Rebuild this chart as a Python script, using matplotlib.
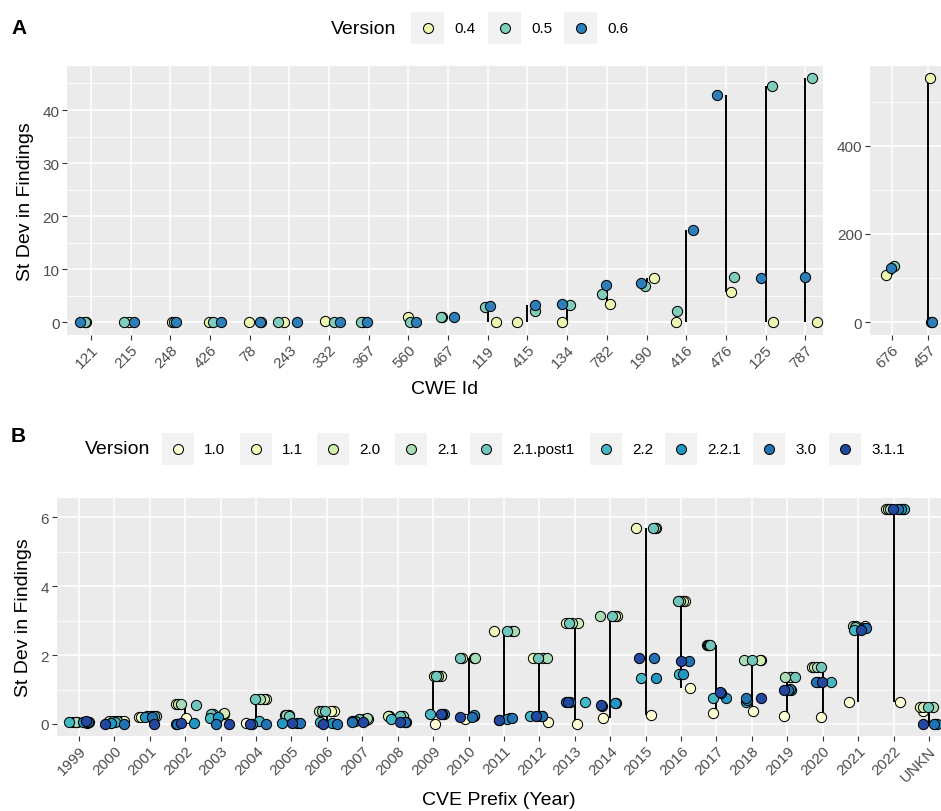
import matplotlib
matplotlib.use("Agg")
import matplotlib.pyplot as plt
from matplotlib.patches import Rectangle
import numpy as np

plt.rcParams['font.family'] = ['Liberation Sans', 'DejaVu Sans']

# ---------------- Panel A data ----------------
cwe_main = ["121", "215", "248", "426", "78", "243", "332", "367", "560", "467",
            "119", "415", "134", "782", "190", "416", "476", "125", "787"]
cwe_side = ["676", "457"]
versions_a = ["0.4", "0.5", "0.6"]
colors_a = ["#EDF8B1", "#7FCDBB", "#2C7FB8"]

a_v04 = [0, 0, 0, 0, 0, 0, 0.2, 0, 1.0, 0.95, 0, 0, 0, 3.4, 8.3, 0, 5.8, 0, 0]
a_v05 = [0, 0, 0, 0, 0, 0, 0.15, 0, 0, 0.94, 2.8, 2.2, 3.3, 5.3, 6.9, 2.1, 8.6, 44.5, 46.1]
a_v06 = [0, 0, 0, 0, 0, 0, 0.15, 0, 0, 1.07, 3.1, 3.3, 3.5, 7.0, 7.4, 17.4, 42.8, 8.3, 8.6]
a_side_v04 = [107, 553]
a_side_v05 = [128, 0]
a_side_v06 = [123, 0]

# horizontal jitter (category units)
a_jit04 = [-0.13, -0.04, 0.04, -0.03, -0.03, -0.13, -0.10, -0.14, 0.00, -0.15,
           0.21, -0.27, -0.14, 0.09, 0.19, -0.26, 0.13, 0.18, 0.29]
a_jit05 = [-0.15, -0.17, 0.08, 0.07, 0.28, -0.29, 0.13, -0.20, 0.03, -0.18,
           -0.08, 0.19, 0.06, -0.11, -0.05, -0.22, 0.21, 0.15, 0.18]
a_jit06 = [-0.28, 0.08, 0.13, 0.27, 0.25, 0.18, 0.27, -0.04, 0.18, 0.15,
           0.06, 0.19, -0.14, -0.03, -0.13, 0.17, -0.22, -0.12, 0.00]
a_side_jit04 = [-0.16, 0.05]
a_side_jit05 = [0.06, 0.07]
a_side_jit06 = [-0.01, 0.11]

# ---------------- Panel B data ----------------
years = ["1999", "2000", "2001", "2002", "2003", "2004", "2005", "2006", "2007",
         "2008", "2009", "2010", "2011", "2012", "2013", "2014", "2015", "2016",
         "2017", "2018", "2019", "2020", "2021", "2022", "UNKN"]
versions_b = ["1.0", "1.1", "2.0", "2.1", "2.1.post1", "2.2", "2.2.1", "3.0", "3.1.1"]
colors_b = ["#FFFFD6", "#F1F9B9", "#D2EDB2", "#A9DDB6", "#72C7BD",
            "#43B7C4", "#2397C3", "#2373B3", "#2448A0"]

b_v10 = [0.03, 0.10, 0.21, 0.16, 0.30, 0.02, 0.26, 0.37, 0.12, 0.22, 0.00, 0.15, 0.12,
         0.05, 0.00, 0.16, 0.27, 1.05, 0.31, 0.37, 0.24, 0.20, 0.63, 0.63, 0.37]
b_v11 = [0.06, 0.10, 0.21, 0.58, 0.30, 0.73, 0.26, 0.37, 0.15, 0.22, 1.38, 1.92, 2.69,
         1.92, 2.93, 3.14, 5.68, 3.56, 2.30, 1.87, 1.36, 1.65, 2.84, 6.24, 0.48]
b_v20 = [0.06, 0.10, 0.24, 0.58, 0.31, 0.73, 0.26, 0.37, 0.15, 0.22, 1.38, 1.92, 2.69,
         1.92, 2.93, 3.14, 5.68, 3.56, 2.30, 1.87, 1.36, 1.65, 2.85, 6.24, 0.48]
b_v21 = [0.06, 0.10, 0.24, 0.58, 0.29, 0.73, 0.26, 0.37, 0.16, 0.22, 1.38, 1.92, 2.69,
         1.92, 2.93, 3.14, 5.68, 3.56, 2.30, 1.87, 1.36, 1.65, 2.84, 6.24, 0.48]
b_v21p = [0.07, 0.08, 0.24, 0.56, 0.28, 0.73, 0.24, 0.37, 0.14, 0.24, 1.38, 1.92, 2.69,
          1.92, 2.93, 3.14, 5.68, 3.56, 2.30, 1.87, 1.36, 1.65, 2.82, 6.24, 0.48]
b_v22 = [0.06, 0.06, 0.22, 0.00, 0.16, 0.08, 0.02, 0.07, 0.10, 0.15, 0.28, 0.22, 0.16,
         0.22, 0.65, 0.61, 1.33, 1.45, 0.75, 0.65, 1.00, 1.21, 2.73, 6.24, 0.00]
b_v221 = [0.05, 0.03, 0.21, 0.02, 0.20, 0.00, 0.02, 0.03, 0.08, 0.05, 0.28, 0.27, 0.15,
          0.22, 0.65, 0.60, 1.33, 1.45, 0.75, 0.70, 1.02, 1.21, 2.78, 6.24, 0.00]
b_v30 = [0.06, 0.00, 0.20, 0.00, 0.00, 0.00, 0.02, 0.00, 0.07, 0.05, 0.28, 0.19, 0.17,
         0.22, 0.65, 0.53, 1.93, 1.83, 0.90, 0.76, 1.00, 1.21, 2.78, 6.24, 0.00]
b_v311 = [0.08, 0.00, 0.00, 0.03, 0.00, 0.00, 0.02, 0.00, 0.05, 0.05, 0.28, 0.19, 0.13,
          0.22, 0.65, 0.55, 1.93, 1.83, 0.92, 0.76, 1.00, 1.21, 2.74, 6.24, 0.00]

b_jit10 = [0.22, 0.17, -0.30, 0.03, 0.07, -0.28, -0.18, 0.19, 0.10, -0.26, 0.05, -0.09, -0.15,
           0.23, 0.07, -0.20, 0.14, 0.25, -0.09, 0.04, -0.08, -0.04, -0.26, 0.19, -0.18]
b_jit11 = [-0.05, 0.26, -0.24, -0.27, 0.10, 0.29, -0.11, 0.11, 0.15, -0.24, 0.21, -0.19, -0.27,
           -0.17, -0.24, 0.18, -0.28, 0.11, -0.28, 0.27, 0.07, -0.30, 0.19, -0.21, -0.25]
b_jit20 = [-0.16, -0.16, 0.02, -0.21, 0.08, 0.22, -0.06, -0.21, 0.05, -0.28, 0.02, 0.14, 0.23,
           0.11, 0.09, 0.13, 0.29, 0.05, -0.23, 0.23, 0.11, -0.25, -0.14, -0.16, -0.18]
b_jit21 = [-0.08, 0.06, 0.16, -0.13, -0.22, 0.12, -0.15, -0.14, 0.12, 0.16, 0.13, 0.17, 0.27,
           0.21, -0.09, -0.29, 0.26, -0.03, -0.21, -0.23, -0.06, -0.15, -0.07, -0.09, 0.10]
b_jit21p = [0.29, -0.04, 0.11, 0.29, -0.26, -0.02, -0.08, -0.05, -0.10, 0.07, 0.09, -0.24, 0.08,
            -0.05, -0.16, 0.04, 0.20, -0.09, -0.17, 0.00, 0.21, -0.04, -0.09, 0.26, -0.02]
b_jit22 = [-0.27, 0.03, -0.09, -0.27, -0.29, 0.08, 0.15, -0.19, -0.20, -0.20, -0.08, 0.16, 0.18,
           -0.26, 0.28, 0.15, -0.14, -0.05, -0.09, -0.18, 0.11, 0.24, -0.11, 0.30, 0.17]
b_jit221 = [0.12, -0.09, -0.15, 0.26, -0.08, -0.11, -0.27, 0.14, -0.28, 0.24, 0.30, 0.14, 0.08,
            0.08, -0.14, 0.13, 0.28, 0.05, 0.26, -0.15, 0.07, -0.13, 0.16, 0.22, 0.22]
b_jit30 = [0.26, 0.26, 0.07, -0.23, -0.12, 0.29, 0.24, 0.28, -0.30, 0.21, 0.25, 0.09, 0.23,
           0.07, -0.24, -0.24, 0.24, 0.23, 0.14, -0.18, 0.02, -0.18, 0.23, 0.12, 0.14]
b_jit311 = [0.19, -0.27, 0.11, -0.13, 0.24, -0.16, 0.01, -0.11, 0.03, 0.05, 0.21, -0.24, -0.15,
            -0.09, -0.18, -0.27, -0.18, 0.00, 0.09, 0.27, -0.09, -0.01, 0.07, -0.02, -0.18]

# ---------------- figure ----------------
W, H = 941, 812
fig = plt.figure(figsize=(W / 100, H / 100), dpi=100)

def px_axes(x0, y0, x1, y1):
    return fig.add_axes([x0 / W, 1 - y1 / H, (x1 - x0) / W, (y1 - y0) / H])

def fx(x):
    return x / W

def fy(y):
    return 1 - y / H

TICK_FS = 11.0
TITLE_FS = 14
PT_S = 54
EDGE = 0.75

def style_axes(ax, yticks, yminor):
    ax.set_facecolor("#EBEBEB")
    for s in ax.spines.values():
        s.set_visible(False)
    ax.set_yticks(yticks)
    ax.set_yticks(yminor, minor=True)
    ax.grid(True, which="major", color="white", linewidth=1.1, zorder=0)
    ax.grid(True, which="minor", axis="y", color="white", linewidth=0.55, zorder=0)
    ax.set_axisbelow(True)
    ax.tick_params(axis="both", which="major", length=3.5, width=0.8, color="#333333",
                   labelsize=TICK_FS, labelcolor="#4D4D4D", pad=2)
    ax.tick_params(axis="y", which="minor", length=0)
    ax.tick_params(axis="x", which="minor", length=0)

def draw_group(ax, cats, series, jitters, colors):
    idx = np.arange(len(cats))
    arr = np.array(series, dtype=float)
    lo = arr.min(axis=0)
    hi = arr.max(axis=0)
    ax.vlines(idx, lo, hi, color="black", linewidth=1.4, zorder=2)
    for vals, jit, col in zip(series, jitters, colors):
        ax.scatter(idx + np.array(jit), vals, s=PT_S, facecolor=col, edgecolor="black",
                   linewidth=EDGE, zorder=3, clip_on=False)
    ax.set_xticks(idx)
    ax.set_xticklabels(cats, rotation=45, ha="right", va="top", rotation_mode="anchor")

# ---- Panel A main ----
axA = px_axes(67.3, 66.7, 822.7, 336)
style_axes(axA, [0, 10, 20, 30, 40], [5, 15, 25, 35, 45])
draw_group(axA, cwe_main, [a_v04, a_v05, a_v06], [a_jit04, a_jit05, a_jit06], colors_a)
axA.set_xlim(-0.597, 18.44)
axA.set_ylim(-2.39, 48.35)
axA.set_xlabel("CWE Id", fontsize=TITLE_FS, labelpad=7)
axA.set_ylabel("St Dev in Findings", fontsize=TITLE_FS, labelpad=6)

# ---- Panel A side ----
axA2 = px_axes(870, 66.7, 941, 336)
style_axes(axA2, [0, 200, 400], [100, 300, 500])
draw_group(axA2, cwe_side, [a_side_v04, a_side_v05, a_side_v06],
           [a_side_jit04, a_side_jit05, a_side_jit06], colors_a)
axA2.set_xlim(-0.593, 1.347)
axA2.set_ylim(-28.8, 581.2)

# ---- Panel B ----
axB = px_axes(56.7, 499, 941, 736.7)
style_axes(axB, [0, 2, 4, 6], [1, 3, 5])
draw_group(axB, years, [b_v10, b_v11, b_v20, b_v21, b_v21p, b_v22, b_v221, b_v30, b_v311],
           [b_jit10, b_jit11, b_jit20, b_jit21, b_jit21p, b_jit22, b_jit221, b_jit30, b_jit311],
           colors_b)
axB.set_xlim(-0.63, 24.34)
axB.set_ylim(-0.34, 6.56)
axB.set_xlabel("CVE Prefix (Year)", fontsize=TITLE_FS, labelpad=5)
axB.set_ylabel("St Dev in Findings", fontsize=TITLE_FS, labelpad=6)

# ---- panel tags ----
fig.text(fx(11), fy(28), "A", fontsize=15, fontweight="bold", ha="left", va="center")
fig.text(fx(11), fy(437), "B", fontsize=15, fontweight="bold", ha="left", va="center")

# ---- legends (drawn manually, ggplot style) ----
def legend(title, title_x, yc, labels, colors, box_lefts, box_w=32, box_h=32):
    fig.text(fx(title_x), fy(yc), title, fontsize=TITLE_FS, ha="left", va="center")
    for lab, col, bx in zip(labels, colors, box_lefts):
        fig.patches.append(Rectangle((fx(bx), fy(yc + box_h / 2)), box_w / W, box_h / H,
                                     transform=fig.transFigure, facecolor="#F2F2F2",
                                     edgecolor="none", zorder=1))
        fig.add_artist(plt.Line2D([fx(bx + box_w / 2)], [fy(yc)], marker="o", markersize=7.2,
                                  markerfacecolor=col, markeredgecolor="black",
                                  markeredgewidth=EDGE, linestyle="none",
                                  transform=fig.transFigure, zorder=2))
        fig.text(fx(bx + box_w + 10), fy(yc), lab, fontsize=TICK_FS, ha="left", va="center")

legend("Version", 331, 29, versions_a, colors_a, [411, 488, 564], box_w=33)
legend("Version", 85, 450, versions_b, colors_b,
       [162, 240, 317, 395, 470, 590, 665, 753, 829])

fig.savefig("out.png", dpi=100)
